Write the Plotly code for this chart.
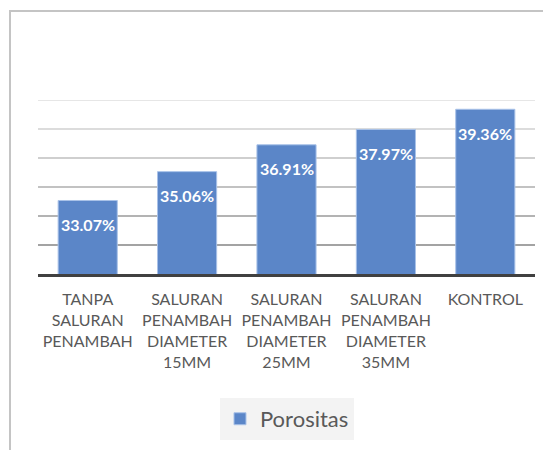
import plotly.graph_objects as go

categories = [
    "TANPA<br>SALURAN<br>PENAMBAH",
    "SALURAN<br>PENAMBAH<br>DIAMETER<br>15MM",
    "SALURAN<br>PENAMBAH<br>DIAMETER<br>25MM",
    "SALURAN<br>PENAMBAH<br>DIAMETER<br>35MM",
    "KONTROL",
]
porositas = [33.07, 35.06, 36.91, 37.97, 39.36]
series_name = "Porositas"
grid_values = [30, 32, 34, 36, 38, 40]
grid_colors = ["#a3a3a3", "#b3b3b3", "#c2c2c2", "#cfcfcf", "#dcdcdc", "#e6e6e6"]
y_range = [28, 40]

FONT = "Lato"
BAR = "#5b86c8"

# page has an ~8px body offset; margins compensate for it
L, T, PW, PH = 30, 92, 497, 174
W, H = 551, 450

fig = go.Figure()
fig.add_trace(go.Bar(
    x=categories, y=porositas, name=series_name,
    marker=dict(color=BAR, line=dict(color="#a9c2e8", width=1)),
    showlegend=True,
))

shapes = []
for gv, gc in zip(grid_values, grid_colors):
    shapes.append(dict(type="line", xref="paper", yref="y", x0=0, x1=1, y0=gv, y1=gv,
                       line=dict(color=gc, width=2), layer="below"))
# outer chart frame (left/top visible)
shapes.append(dict(type="rect", xref="paper", yref="paper",
                   x0=(2 - L) / PW, x1=1.5, y0=-2, y1=(T + PH - 3) / PH,
                   line=dict(color="#c4c4c4", width=2), layer="below"))

annotations = []
for c, v in zip(categories, porositas):
    annotations.append(dict(x=c, y=v, xref="x", yref="y", text=f"{v:.2f}%",
                            showarrow=False, yshift=-24, yanchor="middle",
                            font=dict(family=FONT, size=16, color="white", weight="bold")))

fig.update_layout(
    width=W, height=H,
    margin=dict(l=L, r=W - L - PW, t=T, b=H - T - PH, autoexpand=False),
    paper_bgcolor="white", plot_bgcolor="white",
    bargap=0.405,
    shapes=shapes,
    annotations=annotations,
    font=dict(family=FONT, color="#595959"),
    xaxis=dict(showline=True, linecolor="#404040", linewidth=3, ticks="",
               tickfont=dict(family=FONT, size=16, color="#595959"), showgrid=False,
               ticklabelstandoff=9),
    yaxis=dict(range=y_range, showgrid=False, showticklabels=False, zeroline=False,
               fixedrange=True),
    legend=dict(orientation="h", x=0.501, xanchor="center", y=-0.833, yanchor="middle",
                bgcolor="#f3f3f3", font=dict(family=FONT, size=22, color="#595959")),
)

fig.write_html("out.html")
